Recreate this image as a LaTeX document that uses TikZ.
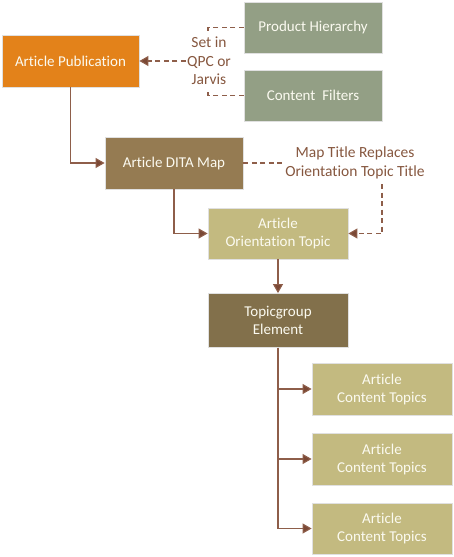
\documentclass[tikz,border=0pt]{standalone}
\usepackage{fontspec}
\setmainfont{Carlito}[Ligatures=NoCommon]
\usetikzlibrary{arrows.meta}
\definecolor{orangeb}{HTML}{E3821A}
\definecolor{sage}{HTML}{939F85}
\definecolor{dita}{HTML}{957B52}
\definecolor{khaki}{HTML}{C3BA80}
\definecolor{topg}{HTML}{82704B}
\definecolor{lnc}{HTML}{8E5E4A}
\definecolor{tipc}{HTML}{7A4835}
\definecolor{lbl}{HTML}{86573F}
\definecolor{boxtxt}{HTML}{FBFAF0}
\tikzset{
  boxst/.style={draw=black!12, line width=0.8pt, text=boxtxt, font=\fontsize{15}{18}\selectfont, align=center, inner sep=0pt},
  conn/.style={draw=lnc, line width=1.1pt, -{Triangle[length=9pt,width=10pt,fill=tipc]}},
  dconn/.style={draw=lnc, line width=1.1pt, dash pattern=on 5pt off 3.5pt},
  lblst/.style={text=lbl, font=\fontsize{15.5}{18.5}\selectfont, align=center, inner sep=1pt}
}
\begin{document}
\begin{tikzpicture}[x=1pt,y=-1pt]
\useasboundingbox (0,0) rectangle (454,557);
\node[boxst, fill=sage, minimum width=138, minimum height=51] (ph) at (313,27.5) {Product Hierarchy};
\node[boxst, fill=sage, minimum width=138, minimum height=51] (cf) at (313,95.5) {Content\ \ Filters};
\node[boxst, fill=orangeb, minimum width=137, minimum height=52] (ap) at (70.5,61) {Article Publication};
\node[boxst, fill=dita, minimum width=138, minimum height=52] (dm) at (174,163) {Article DITA Map};
\node[boxst, fill=khaki, minimum width=140, minimum height=51] (ot) at (278,233.5) {Article\\Orientation Topic};
\node[boxst, fill=topg, minimum width=140, minimum height=54] (tg) at (278,320.5) {Topicgroup\\Element};
\node[boxst, fill=khaki, minimum width=140, minimum height=52] (c1) at (382,389) {Article\\Content Topics};
\node[boxst, fill=khaki, minimum width=140, minimum height=52] (c2) at (382,459) {Article\\Content Topics};
\node[boxst, fill=khaki, minimum width=140, minimum height=51] (c3) at (382,528.5) {Article\\Content Topics};
\node[lblst] (setin) at (209,61) {Set in\\QPC or\\Jarvis};
\node[lblst] (mt) at (355,163) {Map Title Replaces\\Orientation Topic Title};
\coordinate (p1) at (208,27.5);
\coordinate (p2) at (208,33);
\coordinate (q1) at (208,95.5);
\coordinate (q2) at (208,89);
\coordinate (mtr) at (382,184);
% dashed connectors
\draw[dconn] (ph.west) -- (p1) -- (p2);
\draw[dconn] (cf.west) -- (q1) -- (q2);
\draw[dconn, -{Triangle[length=9pt,width=10pt,fill=tipc]}] (setin.west) -- (ap.east);
\draw[dconn] (dm.east) -- (mt.west |- dm.east);
\draw[dconn, -{Triangle[length=9pt,width=10pt,fill=tipc]}] (mtr) -- (mtr |- ot.east) -- (ot.east);
% solid connectors
\draw[conn] (ap.south) |- (dm.west);
\draw[conn] (dm.south) |- (ot.west);
\draw[conn] (ot.south) -- (tg.north);
\draw[conn] (tg.south) |- (c1.west);
\draw[conn] (tg.south) |- (c2.west);
\draw[conn] (tg.south) |- (c3.west);
\end{tikzpicture}
\end{document}
